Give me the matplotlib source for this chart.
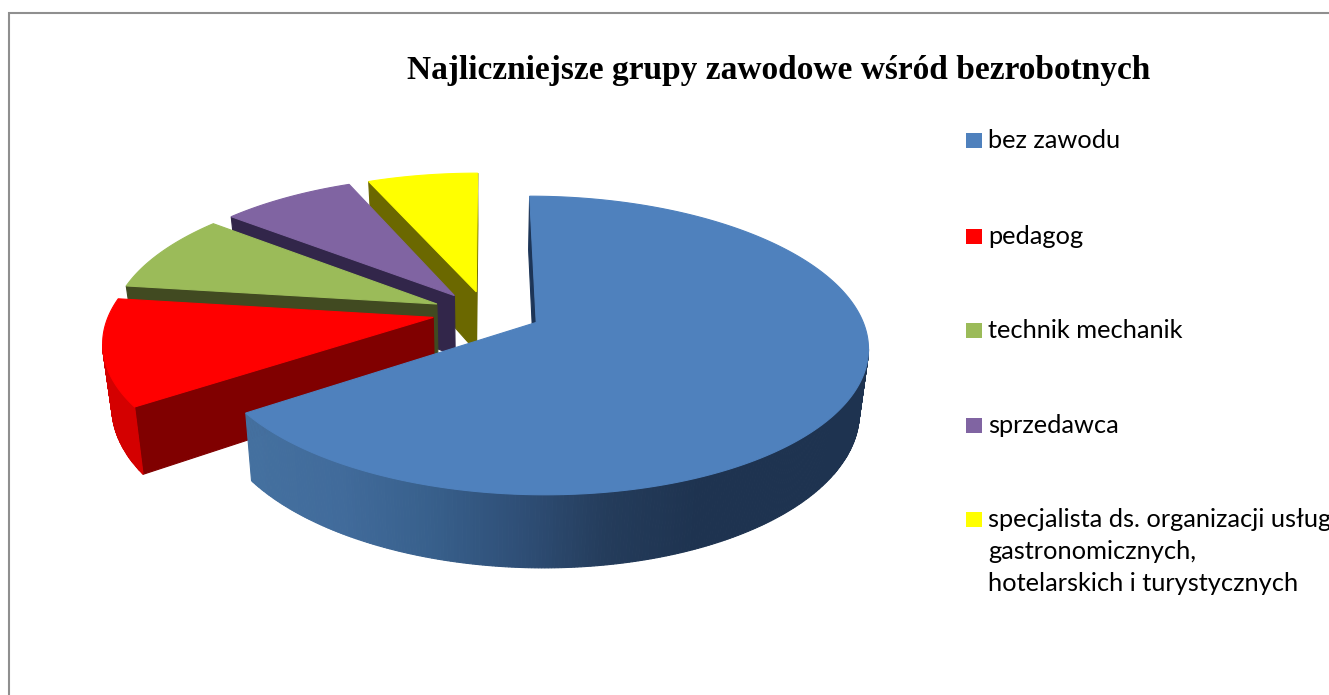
#!/usr/bin/env python3
"""Exploded 3D pie chart of the largest occupational groups among the unemployed."""

import numpy as np
import matplotlib
matplotlib.use('Agg')
import matplotlib.pyplot as plt
from matplotlib.colors import LinearSegmentedColormap
from matplotlib.patches import Polygon, Rectangle

TITLE = 'Najliczniejsze grupy zawodowe wśród bezrobotnych'
categories = ['bez zawodu', 'pedagog', 'technik mechanik', 'sprzedawca',
              'specjalista ds. organizacji usług\ngastronomicznych,\nhotelarskich i turystycznych']
values = [65.4, 11.7, 8.7, 7.8, 6.4]
top_colors = ['#4f81bd', '#ff0000', '#9bbb59', '#8064a2', '#ffff00']
cut_colors = ['#1d3557', '#800000', '#414a21', '#32264a', '#6b6800']
rim_colors = ['#1d3350', '#d40000', '#414a21', '#32264a', '#6b6800']

# Projection of the pie plane onto the canvas (pixels)
X0, YH = 487, -621
FX, FY = 2117, 6107
DIST = 6.543
DEPTH = 400
SHRINK = 0.024  # bottom of the pie sits further from the camera
EXPLODE_X, EXPLODE_Y = 0.17, 0.15

blue_rim = LinearSegmentedColormap.from_list(
    'blue_rim', ['#44709f', '#416b9b', '#38608c', '#2f4f77', '#243c5b', '#1e3350'])


def project(u, v, z=0.0):
    w = DIST + v
    return X0 + FX * u / w * (1 - SHRINK * z), YH + (FY + DEPTH * z) / w


def polar(a):
    return np.sin(a), np.cos(a)


def faces_camera(px, py, nx, ny):
    return nx * (0 - px) + ny * (-DIST - py) > 0


def quad(ax, pts, color):
    ax.add_patch(Polygon(pts, closed=True, facecolor=color, edgecolor=color, linewidth=0.8))


def draw_slice(ax, start, end, index):
    mid = (start + end) / 2
    ox, oy = EXPLODE_X * np.sin(mid), EXPLODE_Y * np.cos(mid)
    angles = np.linspace(start, end, max(int(np.degrees(end - start) * 2), 2) + 1)
    ux, uy = polar(angles)
    ux, uy = ux + ox, uy + oy

    # flat cut faces
    for normal, (ex, ey) in [(start - np.pi / 2, (ux[0], uy[0])),
                             (end + np.pi / 2, (ux[-1], uy[-1]))]:
        nx, ny = polar(normal)
        if faces_camera((ox + ex) / 2, (oy + ey) / 2, nx, ny):
            quad(ax, [project(ox, oy), project(ex, ey),
                      project(ex, ey, 1), project(ox, oy, 1)], cut_colors[index])

    # outer rim
    for i in range(len(angles) - 1):
        am = (angles[i] + angles[i + 1]) / 2
        nx, ny = polar(am)
        if faces_camera(ux[i], uy[i], nx, ny):
            if index == 0:
                # shading follows the horizontal position on the canvas
                x = project(ux[i], uy[i])[0]
                color = blue_rim(np.clip((x - 250) / 450, 0, 1))
            else:
                color = rim_colors[index]
            quad(ax, [project(ux[i], uy[i]), project(ux[i + 1], uy[i + 1]),
                      project(ux[i + 1], uy[i + 1], 1), project(ux[i], uy[i], 1)], color)

    # top surface
    top = [project(ox, oy)] + [project(x, y) for x, y in zip(ux, uy)]
    quad(ax, top, top_colors[index])


def main():
    fig = plt.figure(figsize=(13.29, 6.95), dpi=100, facecolor='white')
    ax = fig.add_axes([0, 0, 1, 1])
    ax.set_xlim(0, 1329)
    ax.set_ylim(695, 0)
    ax.axis('off')

    # chart frame runs off the right and bottom of the picture
    ax.add_patch(Rectangle((9, 13), 1400, 760, facecolor='white',
                           edgecolor='#8f8f8f', linewidth=1.5))

    ax.text(779, 70, TITLE, ha='center', va='center', fontsize=24,
            fontweight='bold', family='Liberation Serif', color='black')

    # slices run clockwise from twelve o'clock, painted back to front
    edges = np.radians(np.concatenate([[0], np.cumsum(values)]) * 3.6)
    for i in range(len(values) - 1, -1, -1):
        draw_slice(ax, edges[i], edges[i + 1], i)

    # legend
    rows = [140, 236, 330, 425, 519]
    for label, color, y in zip(categories, top_colors, rows):
        ax.add_patch(Rectangle((966, y - 7), 16, 15, facecolor=color, edgecolor='none'))
        ax.text(988, y - 11, label, ha='left', va='top', fontsize=18.3,
                family='Lato', color='black', linespacing=1.47)

    fig.savefig('out.png', dpi=100)


if __name__ == '__main__':
    main()
